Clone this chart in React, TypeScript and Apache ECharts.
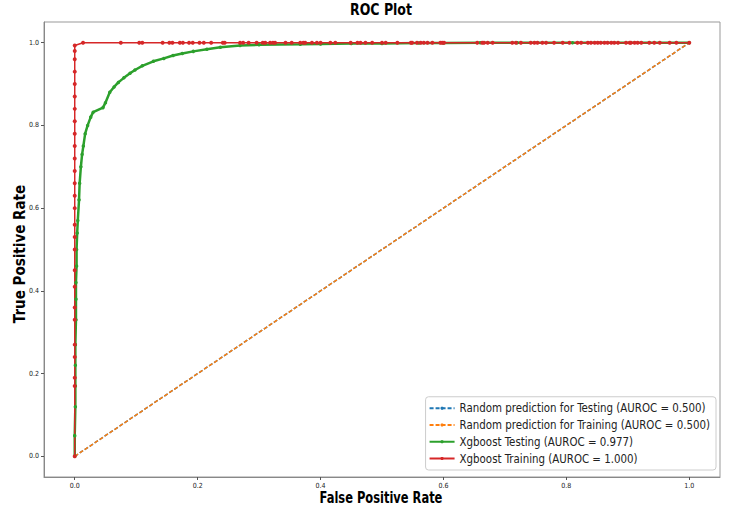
import React, { useEffect, useRef } from "react";
import * as echarts from "echarts";

const tickValues = [0, 0.2, 0.4, 0.6, 0.8, 1.0];
const titleText = "ROC Plot";
const xAxisTitle = "False Positive Rate";
const yAxisTitle = "True Positive Rate";
const seriesNames = [
  "Random prediction for Testing (AUROC = 0.500)",
  "Random prediction for Training (AUROC = 0.500)",
  "Xgboost Testing (AUROC = 0.977)",
  "Xgboost Training (AUROC = 1.000)",
];
const randomFpr = [0, 1];
const randomTpr = [0, 1];

const testFpr = [0, 0, 0.001, 0.001, 0.001, 0.001, 0.002, 0.002, 0.002, 0.003, 0.003, 0.004, 0.005, 0.007, 0.008, 0.010, 0.012, 0.014, 0.017, 0.021, 0.026, 0.030, 0.046, 0.050, 0.057, 0.064, 0.071, 0.080, 0.090, 0.098, 0.110, 0.128, 0.145, 0.160, 0.175, 0.193, 0.215, 0.237, 0.269, 0.300, 0.367, 0.400, 0.450, 0.500, 0.560, 0.600, 0.660, 0.720, 0.810, 1.0];
const testTpr = [0, 0.05, 0.12, 0.17, 0.22, 0.27, 0.33, 0.38, 0.42, 0.46, 0.50, 0.54, 0.57, 0.62, 0.66, 0.70, 0.73, 0.75, 0.78, 0.80, 0.82, 0.832, 0.843, 0.855, 0.880, 0.893, 0.904, 0.915, 0.926, 0.934, 0.944, 0.955, 0.962, 0.969, 0.974, 0.979, 0.984, 0.989, 0.993, 0.995, 0.996, 0.997, 0.998, 0.998, 0.999, 0.999, 1.0, 1.0, 1.0, 1.0];

const trainFpr = [0, 0, 0, 0, 0, 0, 0, 0, 0, 0, 0, 0, 0, 0, 0, 0, 0, 0, 0, 0, 0, 0, 0, 0, 0, 0, 0, 0.0136, 0.075, 0.105, 0.110, 0.143, 0.154, 0.159, 0.171, 0.176, 0.186, 0.192, 0.203, 0.210, 0.222, 0.241, 0.244, 0.269, 0.274, 0.283, 0.296, 0.306, 0.310, 0.318, 0.3225, 0.326, 0.343, 0.353, 0.367, 0.372, 0.375, 0.386, 0.394, 0.400, 0.416, 0.424, 0.449, 0.460, 0.465, 0.473, 0.484, 0.500, 0.506, 0.525, 0.547, 0.549, 0.557, 0.563, 0.568, 0.574, 0.582, 0.595, 0.598, 0.601, 0.655, 0.663, 0.666, 0.672, 0.680, 0.712, 0.718, 0.726, 0.742, 0.748, 0.753, 0.761, 0.767, 0.780, 0.794, 0.805, 0.818, 0.824, 0.835, 0.840, 0.846, 0.851, 0.856, 0.862, 0.867, 0.873, 0.878, 0.884, 0.897, 0.903, 0.905, 0.911, 0.916, 0.922, 0.935, 0.943, 0.952, 0.968, 0.979, 1.0];
const trainTpr = [0, 0.17, 0.19, 0.24, 0.27, 0.33, 0.36, 0.41, 0.45, 0.50, 0.53, 0.56, 0.60, 0.63, 0.66, 0.69, 0.72, 0.75, 0.78, 0.81, 0.84, 0.87, 0.90, 0.93, 0.96, 0.98, 0.993, 1.0, 1.0, 1.0, 1.0, 1.0, 1.0, 1.0, 1.0, 1.0, 1.0, 1.0, 1.0, 1.0, 1.0, 1.0, 1.0, 1.0, 1.0, 1.0, 1.0, 1.0, 1.0, 1.0, 1.0, 1.0, 1.0, 1.0, 1.0, 1.0, 1.0, 1.0, 1.0, 1.0, 1.0, 1.0, 1.0, 1.0, 1.0, 1.0, 1.0, 1.0, 1.0, 1.0, 1.0, 1.0, 1.0, 1.0, 1.0, 1.0, 1.0, 1.0, 1.0, 1.0, 1.0, 1.0, 1.0, 1.0, 1.0, 1.0, 1.0, 1.0, 1.0, 1.0, 1.0, 1.0, 1.0, 1.0, 1.0, 1.0, 1.0, 1.0, 1.0, 1.0, 1.0, 1.0, 1.0, 1.0, 1.0, 1.0, 1.0, 1.0, 1.0, 1.0, 1.0, 1.0, 1.0, 1.0, 1.0, 1.0, 1.0, 1.0, 1.0, 1.0];

const zip = (xs: number[], ys: number[]) => xs.map((x, i) => [x, ys[i]]);

const FONT = "'DejaVu Sans Condensed', 'Liberation Sans Narrow', 'DejaVu Sans', sans-serif";

export default function App() {
  const ref = useRef<HTMLDivElement>(null);
  useEffect(() => {
    if (!ref.current) return;
    const chart = echarts.init(ref.current, null, { renderer: "svg" });
    const axisCommon = {
      type: "value" as const,
      min: -0.05,
      max: 1.05,
      splitLine: { show: false },
      axisLine: { show: true, onZero: false, lineStyle: { color: "#888", width: 1 } },
      axisTick: { show: true, customValues: tickValues, length: 3, lineStyle: { color: "#555" } },
      axisLabel: {
        customValues: tickValues,
        formatter: (v: number) => v.toFixed(1),
        fontSize: 7,
        color: "#222",
        fontFamily: FONT,
        margin: 5,
      },
    };
    const boldText = { fontWeight: "bold" as const, fill: "#000", fontFamily: FONT, align: "center" as const, verticalAlign: "middle" as const };
    chart.setOption({
      animation: false,
      backgroundColor: "#fff",
      grid: {
        left: 44,
        right: 12,
        top: 22,
        bottom: 35,
        show: true,
        borderColor: "#999",
        borderWidth: 1,
        containLabel: false,
        outerBoundsMode: "none",
      },
      xAxis: { ...axisCommon },
      yAxis: { ...axisCommon },
      graphic: [
        { type: "text", x: 381, y: 10, scaleX: 0.87, style: { ...boldText, text: titleText, fontSize: 16 } },
        { type: "text", x: 381, y: 498, scaleX: 0.85, style: { ...boldText, text: xAxisTitle, fontSize: 15 } },
        { type: "text", x: 20, y: 254, rotation: Math.PI / 2, style: { ...boldText, text: yAxisTitle, fontSize: 15 } },
      ],
      legend: {
        orient: "vertical",
        right: 16,
        bottom: 42,
        padding: [6, 6, 6, 3],
        itemGap: 5.75,
        itemWidth: 25,
        itemHeight: 4,
        icon: "inherit",
        borderColor: "#ccc",
        borderWidth: 1,
        borderRadius: 3,
        backgroundColor: "#fff",
        textStyle: { fontSize: 11.4, color: "#222", fontFamily: FONT },
        data: seriesNames,
      },
      series: [
        {
          name: seriesNames[0],
          type: "line",
          data: zip(randomFpr, randomTpr),
          symbol: "none",
          itemStyle: { color: "#1f77b4" },
          lineStyle: { color: "#1f77b4", width: 1.5, type: [4, 2] },
        },
        {
          name: seriesNames[1],
          type: "line",
          data: zip(randomFpr, randomTpr),
          symbol: "none",
          itemStyle: { color: "#ff7f0e" },
          lineStyle: { color: "#ff7f0e", width: 1.5, type: [4, 2] },
        },
        {
          name: seriesNames[2],
          type: "line",
          data: zip(testFpr, testTpr),
          symbol: "circle",
          symbolSize: 3.5,
          showAllSymbol: true,
          itemStyle: { color: "#2ca02c" },
          lineStyle: { color: "#2ca02c", width: 2.5 },
        },
        {
          name: seriesNames[3],
          type: "line",
          data: zip(trainFpr, trainTpr),
          symbol: "circle",
          symbolSize: 4,
          showAllSymbol: true,
          itemStyle: { color: "#d62728" },
          lineStyle: { color: "#d62728", width: 1.5 },
        },
      ],
    });
    return () => chart.dispose();
  }, []);
  return <div ref={ref} style={{ width: 732, height: 512, position: "absolute", left: 0, top: 0 }} />;
}
